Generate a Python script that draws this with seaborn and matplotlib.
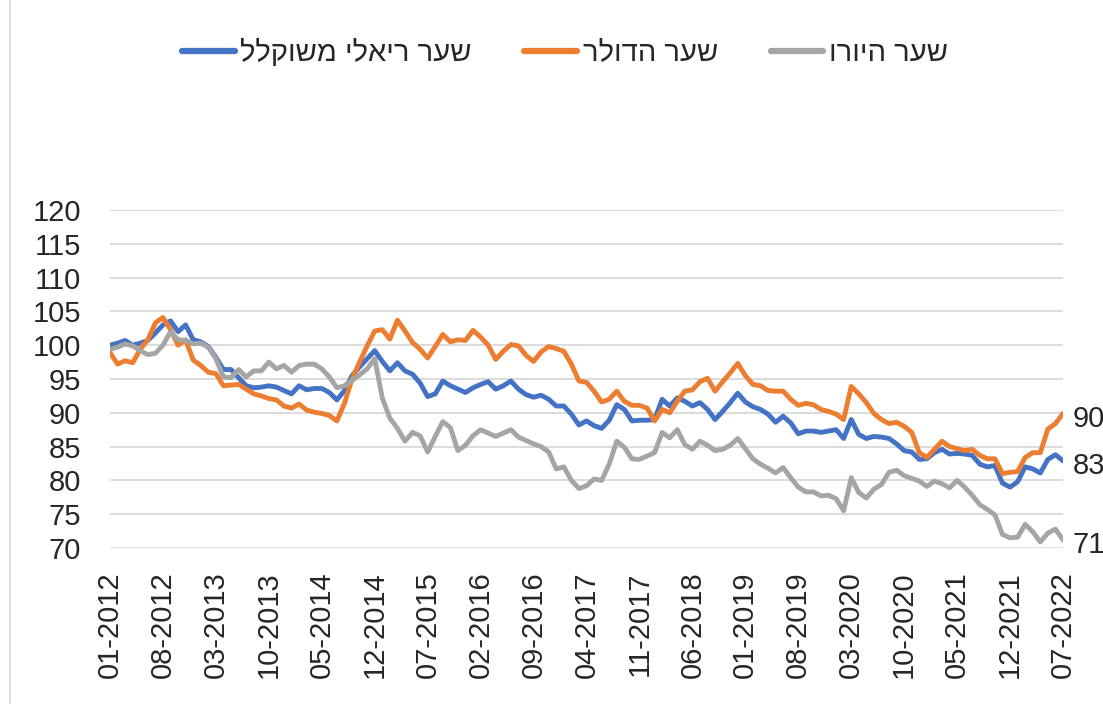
import pandas as pd
import matplotlib.pyplot as plt
import matplotlib.lines as mlines
import seaborn as sns

# monthly index values, 01-2012 .. 07-2022
real_rate = [
    100.0, 100.3, 100.7, 100.0, 100.3, 100.7, 101.8, 103.0, 103.6, 102.0,
    103.0, 100.8, 100.5, 99.8, 98.2, 96.4, 96.4, 95.2, 94.0, 93.7,
    93.8, 94.0, 93.8, 93.3, 92.8, 94.0, 93.4, 93.6, 93.6, 93.0,
    91.9, 93.3, 95.5, 96.8, 98.0, 99.2, 97.6, 96.2, 97.4, 96.2,
    95.7, 94.4, 92.4, 92.8, 94.7, 94.0, 93.5, 93.0, 93.7, 94.2,
    94.6, 93.5, 94.0, 94.7, 93.5, 92.7, 92.3, 92.6, 92.0, 91.0,
    91.0, 89.8, 88.2, 88.8, 88.1, 87.7, 88.9, 91.2, 90.5, 88.8,
    88.9, 88.9, 89.0, 92.0, 91.0, 92.2, 91.7, 91.0, 91.5, 90.5,
    89.0, 90.2, 91.5, 92.9, 91.6, 90.9, 90.5, 89.8, 88.6, 89.5,
    88.5, 86.9, 87.3, 87.3, 87.1, 87.3, 87.5, 86.2, 89.0, 86.8,
    86.2, 86.5, 86.4, 86.2, 85.4, 84.4, 84.2, 83.1, 83.2, 84.1,
    84.6, 83.9, 84.0, 83.9, 83.7, 82.4, 82.0, 82.2, 79.6, 79.0,
    79.8, 82.0, 81.7, 81.1, 83.1, 83.8, 82.9,
]
dollar_rate = [
    98.9, 97.2, 97.7, 97.4, 99.4, 100.8, 103.3, 104.1, 102.3, 100.0,
    100.8, 97.8, 97.0, 96.0, 95.8, 94.0, 94.1, 94.2, 93.5, 92.8,
    92.5, 92.1, 91.9, 91.0, 90.7, 91.3, 90.4, 90.1, 89.9, 89.6,
    88.8, 91.4, 95.0, 97.5, 99.9, 102.1, 102.3, 100.9, 103.7, 102.1,
    100.4, 99.4, 98.1, 99.8, 101.6, 100.5, 100.8, 100.7, 102.2, 101.2,
    100.0, 97.9, 99.1, 100.1, 99.9, 98.5, 97.6, 99.0, 99.8, 99.5,
    99.1, 97.2, 94.7, 94.5, 93.2, 91.6, 92.0, 93.2, 91.7, 91.1,
    91.1, 90.7, 88.8, 90.5, 90.0, 91.7, 93.2, 93.4, 94.6, 95.1,
    93.2, 94.6, 95.9, 97.3, 95.5, 94.2, 94.0, 93.3, 93.2, 93.2,
    92.0, 91.1, 91.4, 91.2, 90.5, 90.2, 89.8, 89.0, 93.9, 92.8,
    91.5, 89.9, 89.0, 88.4, 88.6, 88.0, 87.1, 84.1, 83.4, 84.6,
    85.8, 85.0, 84.7, 84.4, 84.6, 83.7, 83.2, 83.2, 81.0, 81.2,
    81.3, 83.4, 84.1, 84.1, 87.6, 88.4, 89.9,
]
euro_rate = [
    99.4, 99.7, 100.2, 99.9, 99.2, 98.6, 98.8, 100.0, 102.0, 100.8,
    100.7, 100.2, 100.3, 99.7, 98.0, 95.3, 95.2, 96.4, 95.3, 96.2,
    96.2, 97.5, 96.5, 97.0, 96.0, 97.0, 97.2, 97.2, 96.5, 95.3,
    93.7, 94.0, 94.8, 95.6, 96.5, 98.0, 92.2, 89.2, 87.7, 85.8,
    87.1, 86.6, 84.2, 86.5, 88.7, 87.8, 84.4, 85.2, 86.6, 87.5,
    87.0, 86.5, 87.0, 87.5, 86.4, 85.9, 85.4, 85.0, 84.2, 81.7,
    82.0, 80.0, 78.8, 79.2, 80.2, 80.0, 82.4, 85.8, 84.9, 83.2,
    83.1, 83.6, 84.1, 87.1, 86.3, 87.5, 85.3, 84.6, 85.8, 85.2,
    84.4, 84.6, 85.2, 86.2, 84.7, 83.2, 82.4, 81.8, 81.1, 81.9,
    80.4, 79.0, 78.3, 78.3, 77.7, 77.8, 77.3, 75.5, 80.4, 78.2,
    77.4, 78.7, 79.4, 81.2, 81.5, 80.7, 80.3, 79.9, 79.1, 79.9,
    79.5, 78.9, 80.0, 79.0, 77.8, 76.4, 75.7, 74.9, 72.0, 71.5,
    71.6, 73.5, 72.4, 70.9, 72.2, 72.8, 71.2,
]

tick_labels = ["01-2012", "08-2012", "03-2013", "10-2013", "05-2014",
               "12-2014", "07-2015", "02-2016", "09-2016", "04-2017",
               "11-2017", "06-2018", "01-2019", "08-2019", "03-2020",
               "10-2020", "05-2021", "12-2021", "07-2022"]

series_names = ["שער ריאלי משוקלל", "שער הדולר", "שער היורו"]
colors = ["#4472C4", "#ED7D31", "#A5A5A5"]


def rtl(s):
    # matplotlib has no bidi support, so flip Hebrew for display
    return s[::-1]


n = len(real_rate)
df = pd.DataFrame({
    "month": list(range(n)) * 3,
    "value": real_rate + dollar_rate + euro_rate,
    "series": [series_names[0]] * n + [series_names[1]] * n + [series_names[2]] * n,
})

sns.set_style("white")
plt.rcParams['font.family'] = ['Liberation Sans', 'DejaVu Sans']

fig = plt.figure(figsize=(11.03, 7.04), dpi=100)
ax = fig.add_axes([110 / 1103, 1 - 548 / 704, (1063 - 110) / 1103, (548 - 210) / 704])

sns.lineplot(data=df, x="month", y="value", hue="series", hue_order=series_names,
             palette=colors, linewidth=3.5, legend=False, ax=ax,
             solid_joinstyle="round", solid_capstyle="round")

ax.set_xlim(0, n - 1)
ax.set_ylim(70, 120)
ax.set_yticks(range(70, 121, 5))
ax.set_xticks(range(0, n, 7))
ax.set_xticklabels(tick_labels, rotation=90)
ax.tick_params(axis="both", labelsize=21, length=0)
ax.tick_params(axis="y", pad=21)
ax.tick_params(axis="x", pad=17)
ax.set_xlabel("")
ax.set_ylabel("")
ax.yaxis.grid(True, color="#D9D9D9", linewidth=1.3)
ax.set_axisbelow(True)
for sp in ax.spines.values():
    sp.set_visible(False)

# end-of-line labels
for vals in [real_rate, dollar_rate, euro_rate]:
    ax.annotate(f"{round(vals[-1])}", xy=(n - 1, vals[-1]), xytext=(7, -4),
                textcoords="offset points", va="center", ha="left",
                fontsize=21, annotation_clip=False)

handles = [mlines.Line2D([], [], color=c, linewidth=4.5, solid_capstyle="round")
           for c in colors]
fig.legend(handles, [rtl(s) for s in series_names], loc="center",
           bbox_to_anchor=(565 / 1103, 1 - 53 / 704), ncol=3, frameon=False,
           fontsize=21, handlelength=1.8, handletextpad=0.2, columnspacing=1.8)

# chart border on the left edge
fig.add_artist(mlines.Line2D([10 / 1103, 10 / 1103], [0, 1], color="#D9D9D9",
                             linewidth=1.2, transform=fig.transFigure))

fig.savefig("out.png", dpi=100)
